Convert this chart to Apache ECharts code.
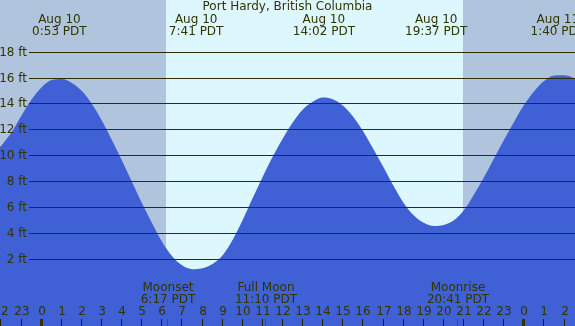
<!DOCTYPE html>
<html><head><meta charset="utf-8">
<script src="https://cdn.jsdelivr.net/npm/echarts@6/dist/echarts.min.js"></script>
<style>html,body{margin:0;padding:0;background:#fff}#c{width:575px;height:326px}</style>
</head><body><div id="c"></div>
<script>
const titleText = 'Port Hardy, British Columbia';
// water level curve (hours from Aug 10 00:00, feet)
const curveHours  = [-2.07,-1.5,-1,-0.5,0,0.5,1,1.5,2,2.5,3,3.5,4,4.5,5,5.5,6,6.5,7,7.5,8,8.5,9,9.5,10,10.5,11,11.5,12,12.5,13,13.5,14,14.5,15,15.5,16,16.5,17,17.5,18,18.5,19,19.5,20,20.5,21,21.5,22,22.5,23,23.5,24,24.5,25,25.5,26,26.52];
const curveLevels = [10.66,11.8,13.1,14.35,15.3,15.85,15.93,15.63,15.0,14.0,12.7,11.2,9.6,7.95,6.3,4.75,3.3,2.2,1.5,1.22,1.3,1.62,2.3,3.5,5.05,6.75,8.4,9.95,11.35,12.6,13.6,14.2,14.5,14.35,13.85,13.0,11.85,10.5,9.1,7.65,6.35,5.4,4.82,4.57,4.65,5.0,5.8,7.0,8.35,9.8,11.25,12.65,13.95,15.0,15.8,16.2,16.22,15.95];
// tide extremes
const tideTimes = [0.883, 7.683, 14.033, 19.617, 25.667];
const tideDates = ['Aug 10','Aug 10','Aug 10','Aug 10','Aug 11'];
const tideLabels = ['0:53 PDT','7:41 PDT','14:02 PDT','19:37 PDT','1:40 PDT'];
// sun
const sunrise = 6.18, sunset = 20.95;
// moon events
const moonTimes = [6.283, 11.167, 20.683];
const moonNames = ['Moonset','Full Moon','Moonrise'];
const moonLabels = ['6:17 PDT','11:10 PDT','20:41 PDT'];
// axes
const xMin = -2.07, xMax = 26.52, yMin = -3.17, yMax = 22.04;
const yTicks = [2,4,6,8,10,12,14,16,18];
const hourTicks = [-2,-1,0,1,2,3,4,5,6,7,8,9,10,11,12,13,14,15,16,17,18,19,20,21,22,23,24,25,26];
const hourLabels = ['22','23','0','1','2','3','4','5','6','7','8','9','10','11','12','13','14','15','16','17','18','19','20','21','22','23','0','1','2'];

const FONT = '12px "DejaVu Sans"';
const TXT = '#333300';
const NIGHT = '#b0c4de', DAY = '#ddf7ff', WATER = '#4060d6';

const chart = echarts.init(document.getElementById('c'), null, {renderer:'canvas'});
const bands = [[xMin, sunrise, NIGHT],[sunrise, sunset, DAY],[sunset, xMax, NIGHT]];
const snap = v => Math.round(v - 0.5) + 0.5;

chart.setOption({
  animation: false,
  grid: {left:0, right:0, top:0, bottom:0},
  xAxis: {type:'value', min:xMin, max:xMax, show:false},
  yAxis: {type:'value', min:yMin, max:yMax, show:false},
  series: [
    { type:'custom', z:1, clip:false,
      data: bands.map(b => [b[0], yMin]),
      renderItem: (params, api) => {
        const b = bands[params.dataIndex];
        const p0 = api.coord([b[0], yMax]), p1 = api.coord([b[1], yMin]);
        return {type:'rect', shape:{x:Math.round(p0[0]), y:0, width:Math.round(p1[0])-Math.round(p0[0]), height:api.getHeight()}, style:{fill:b[2]}};
      }
    },
    { type:'line', z:2, smooth:0.35, symbol:'none',
      data: curveHours.map((h,i) => [h, curveLevels[i]]),
      lineStyle:{width:0, color:WATER},
      areaStyle:{color:WATER, opacity:1, origin:'start'}
    },
    { type:'custom', z:3, clip:false,
      data: yTicks.map(v => [xMin, v]),
      renderItem: (params, api) => {
        const v = yTicks[params.dataIndex];
        const y = snap(api.coord([xMin, v])[1]);
        return {type:'group', children:[
          {type:'line', shape:{x1:29, y1:y, x2:api.getWidth(), y2:y}, style:{stroke:'#2e2e00', lineWidth:1}},
          {type:'text', style:{text:v+' ft', x:27, y:y, align:'right', verticalAlign:'middle', font:FONT, fill:TXT}}
        ]};
      }
    },
    { type:'custom', z:4, clip:false,
      data: tideTimes.map(t => [t, yMax]),
      renderItem: (params, api) => {
        const i = params.dataIndex;
        const x = api.coord([tideTimes[i], yMax])[0];
        return {type:'group', children:[
          {type:'text', style:{text:tideDates[i], x:x, y:19.5, align:'center', verticalAlign:'middle', font:FONT, fill:TXT}},
          {type:'text', style:{text:tideLabels[i], x:x, y:31.5, align:'center', verticalAlign:'middle', font:FONT, fill:TXT}}
        ]};
      }
    },
    { type:'custom', z:4, clip:false,
      data: hourTicks.map(h => [h, yMin]),
      renderItem: (params, api) => {
        const i = params.dataIndex, h = hourTicks[i];
        const x = Math.round(api.coord([h, yMin])[0]);
        const mid = (h % 24 === 0);
        return {type:'group', children:[
          {type:'rect', shape:{x: mid ? x-2 : x-1, y:319, width: mid ? 3 : 1, height:7}, style:{fill: mid ? '#333300' : '#222200'}},
          {type:'text', style:{text:hourLabels[i], x:x, y:311.5, align:'center', verticalAlign:'middle', font:FONT, fill:TXT}}
        ]};
      }
    },
    { type:'custom', z:5, clip:false,
      data: moonTimes.map(t => [t, yMin]),
      renderItem: (params, api) => {
        const i = params.dataIndex;
        const x = Math.round(api.coord([moonTimes[i], yMin])[0]);
        return {type:'group', children:[
          {type:'rect', shape:{x:x-1, y:319, width:1, height:7}, style:{fill:'#ff0000'}},
          {type:'text', style:{text:moonNames[i], x:x, y:287.5, align:'center', verticalAlign:'middle', font:FONT, fill:TXT}},
          {type:'text', style:{text:moonLabels[i], x:x, y:299.5, align:'center', verticalAlign:'middle', font:FONT, fill:TXT}}
        ]};
      }
    }
  ],
  graphic: [
    {type:'text', left:'center', top:1, style:{text:titleText, font:FONT, fill:TXT}, z:10}
  ]
});
</script></body></html>
